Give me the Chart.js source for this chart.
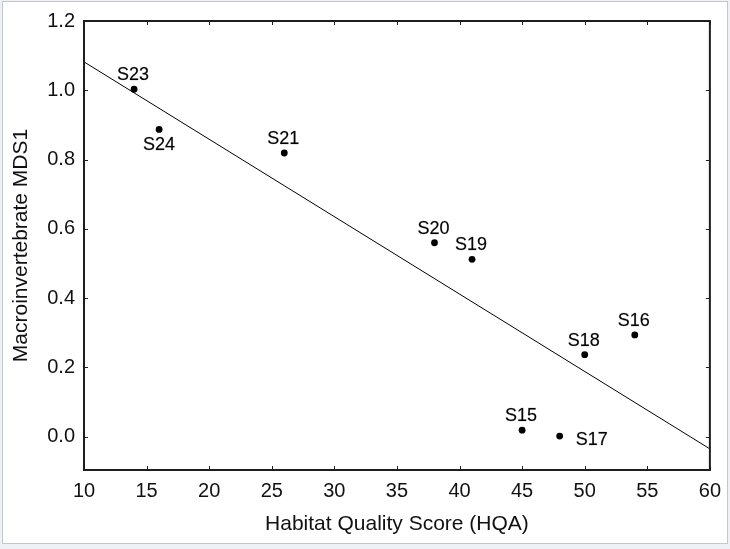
<!DOCTYPE html>
<html><head><meta charset="utf-8">
<script src="https://cdn.jsdelivr.net/npm/chart.js@4/dist/chart.umd.min.js"></script>
<style>
html,body{margin:0;padding:0;background:#eef2f7;width:730px;height:549px;overflow:hidden}
#frame{position:absolute;left:2px;top:1px;width:724px;height:541px;background:#fff;border:1px solid #c3c7cd}
#wrap{position:absolute;left:0;top:0;width:730px;height:549px}
</style></head><body>
<div id="frame"></div>
<div id="wrap"><canvas id="c" width="730" height="549"></canvas></div>
<script>
// ---- data ----
const siteLabels = ['S23', 'S24', 'S21', 'S20', 'S19', 'S18', 'S16', 'S15', 'S17'];
const hqa  = [14, 16, 26, 38, 41, 50, 54, 45, 48];
const mds1 = [1.003, 0.887, 0.819, 0.560, 0.512, 0.237, 0.294, 0.019, 0.002];
const fitX = [10, 60];
const fitY = [1.082, -0.035];
const xTicks = [10, 15, 20, 25, 30, 35, 40, 45, 50, 55, 60];
const yTicks = [0.0, 0.2, 0.4, 0.6, 0.8, 1.0, 1.2];

const FONT = "'Liberation Sans', Arial, sans-serif";

// label placement (style only)
const labelPlace = { S24: 'below', S17: 'right' };

const frameTicks = {
  id: 'frameTicks',
  afterDatasetsDraw(chart) {
    const { ctx, chartArea: a, scales: { x, y } } = chart;
    ctx.save();
    ctx.strokeStyle = '#1e1e1e';
    ctx.lineWidth = 1;
    ctx.beginPath();
    x.ticks.forEach(t => {
      const px = Math.round(x.getPixelForValue(t.value)) + 0.5;
      ctx.moveTo(px, a.bottom); ctx.lineTo(px, a.bottom - 4);
      ctx.moveTo(px, a.top); ctx.lineTo(px, a.top + 4);
    });
    y.ticks.forEach(t => {
      const py = Math.round(y.getPixelForValue(t.value)) + 0.5;
      ctx.moveTo(a.left, py); ctx.lineTo(a.left + 4, py);
      ctx.moveTo(a.right, py); ctx.lineTo(a.right - 4, py);
    });
    ctx.stroke();
    ctx.lineWidth = 2;
    ctx.strokeRect(a.left, a.top, a.right - a.left, a.bottom - a.top);
    ctx.restore();
  }
};

const pointLabels = {
  id: 'pointLabels',
  afterDatasetsDraw(chart) {
    const { ctx } = chart;
    const meta = chart.getDatasetMeta(0);
    ctx.save();
    ctx.font = '18px ' + FONT;
    ctx.fillStyle = '#000';
    ctx.strokeStyle = 'rgba(0,0,0,0.35)';
    ctx.lineWidth = 0.5;
    ctx.textAlign = 'center';
    ctx.textBaseline = 'middle';
    meta.data.forEach((el, i) => {
      const name = siteLabels[i];
      const place = labelPlace[name] || 'above';
      let dx = -1, dy = -14;
      if (place === 'below') { dx = 0; dy = 16; }
      if (place === 'right') { dx = 32; dy = 4; }
      ctx.fillText(name, el.x + dx, el.y + dy);
      ctx.strokeText(name, el.x + dx, el.y + dy);
    });
    ctx.restore();
  }
};

new Chart(document.getElementById('c'), {
  type: 'scatter',
  data: {
    datasets: [
      {
        label: 'Sites',
        data: hqa.map((v, i) => ({ x: v, y: mds1[i] })),
        pointRadius: 3.4,
        pointBackgroundColor: '#000',
        pointBorderColor: '#000',
        pointBorderWidth: 0,
        showLine: false
      },
      {
        label: 'Fit',
        data: fitX.map((v, i) => ({ x: v, y: fitY[i] })),
        showLine: true,
        borderColor: '#000',
        borderWidth: 1,
        pointRadius: 0,
        fill: false
      }
    ]
  },
  options: {
    responsive: false,
    animation: false,
    devicePixelRatio: 1,
    layout: { padding: { left: 0, right: 20, top: 20, bottom: 0 } },
    plugins: { legend: { display: false }, tooltip: { enabled: false } },
    scales: {
      x: {
        type: 'linear', position: 'bottom', min: 10, max: 60,
        afterBuildTicks: s => { s.ticks = xTicks.map(v => ({ value: v })); },
        afterFit: s => { s.height = 79; },
        grid: { display: false, drawTicks: false },
        border: { display: false },
        ticks: { padding: 9, color: '#111', font: { family: FONT, size: 20 }, callback: v => String(v), maxRotation: 0, autoSkip: false },
        title: { display: true, text: 'Habitat Quality Score (HQA)', color: '#111', font: { family: FONT, size: 21 }, padding: { top: 0, bottom: 12 } }
      },
      y: {
        type: 'linear', position: 'left', min: -0.096, max: 1.2,
        afterBuildTicks: s => { s.ticks = yTicks.map(v => ({ value: v })); },
        afterFit: s => { s.width = 84; },
        grid: { display: false, drawTicks: false },
        border: { display: false },
        ticks: { padding: 9, color: '#111', font: { family: FONT, size: 20 }, callback: v => Number(v).toFixed(1), autoSkip: false },
        title: { display: true, text: 'Macroinvertebrate MDS1', color: '#111', font: { family: FONT, size: 21 }, padding: { top: 9, bottom: 0 } }
      }
    }
  },
  plugins: [frameTicks, pointLabels]
});
</script>
</body></html>
